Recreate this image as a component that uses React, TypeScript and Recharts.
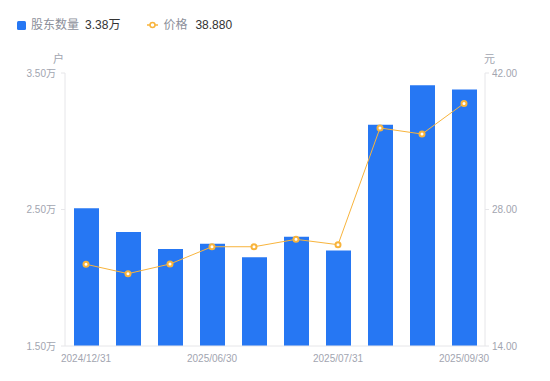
import React from 'react';
import { ComposedChart, Bar, Line, XAxis, YAxis } from 'recharts';

const dates = [
  '2024/12/31',
  '2025/03/31',
  '2025/04/30',
  '2025/06/30',
  '2025/07/10',
  '2025/07/20',
  '2025/07/31',
  '2025/08/20',
  '2025/08/31',
  '2025/09/30',
];
// 股东数量 (万户)
const holders = [2.51, 2.335, 2.21, 2.25, 2.15, 2.3, 2.2, 3.12, 3.41, 3.38];
// 价格 (元)
const prices = [22.38, 21.42, 22.41, 24.18, 24.18, 24.94, 24.39, 36.36, 35.74, 38.88];

const holderTicks = [1.5, 2.5, 3.5];
const priceTicks = [14, 28, 42];

const BLUE = '#2677f3';
const ORANGE = '#f8b43c';
const AXIS = '#e6e6e9';
const MUTED = '#a2a5b0';
const FONT = '"Liberation Sans", Arial, "Noto Sans CJK SC", sans-serif';

const data = dates.map((d, i) => ({ date: d, holders: holders[i], price: prices[i] }));

const PriceDot = (props: any) => {
  const { cx, cy } = props;
  if (cx == null || cy == null) return null;
  return <circle cx={cx} cy={cy} r={2.5} fill="#fff" stroke={ORANGE} strokeWidth={2} />;
};

export default function App() {
  const last = dates.length - 1;
  const tickStyle = { fontSize: 10, fill: MUTED, fontFamily: FONT };

  return (
    <div style={{ position: 'absolute', left: 0, top: 0, width: 550, height: 381, fontFamily: FONT }}>
      <div style={{ position: 'absolute', left: 17, top: 17, display: 'flex', alignItems: 'center', fontSize: 12, lineHeight: '16px' }}>
        <span style={{ width: 9, height: 9, background: BLUE, borderRadius: 1.5, display: 'inline-block' }} />
        <span style={{ color: '#8c8f9a', marginLeft: 5 }}>股东数量</span>
        <span style={{ color: '#333', marginLeft: 6 }}>{holders[last].toFixed(2)}万</span>
        <svg width={12} height={10} style={{ marginLeft: 27 }}>
          <line x1={0} y1={5} x2={11} y2={5} stroke={ORANGE} strokeWidth={1.5} />
          <circle cx={5.5} cy={5} r={2.5} fill="#fff" stroke={ORANGE} strokeWidth={1.5} />
        </svg>
        <span style={{ color: '#8c8f9a', marginLeft: 4 }}>价格</span>
        <span style={{ color: '#333', marginLeft: 8 }}>{prices[last].toFixed(3)}</span>
      </div>
      <div style={{ position: 'absolute', left: 53, top: 50, fontSize: 11, color: MUTED }}>户</div>
      <div style={{ position: 'absolute', left: 484, top: 50, fontSize: 11, color: MUTED }}>元</div>

      <ComposedChart
        width={550}
        height={381}
        data={data}
        margin={{ top: 73, right: 0, bottom: 5, left: 0 }}
        style={{ position: 'absolute', left: 0, top: 0 }}
      >
        <XAxis
          dataKey="date"
          interval={2}
          tickLine={false}
          tickSize={0}
          tickMargin={9}
          height={30}
          axisLine={{ stroke: AXIS }}
          tick={tickStyle}
        />
        <YAxis
          yAxisId="left"
          orientation="left"
          width={65}
          domain={[1.5, 3.5]}
          ticks={holderTicks}
          tickFormatter={(v: number) => v.toFixed(2) + '万'}
          tickSize={4}
          tickMargin={5}
          tickLine={{ stroke: AXIS }}
          axisLine={{ stroke: AXIS }}
          tick={tickStyle}
        />
        <YAxis
          yAxisId="right"
          orientation="right"
          width={65}
          domain={[14, 42]}
          ticks={priceTicks}
          tickFormatter={(v: number) => v.toFixed(2)}
          tickSize={4}
          tickMargin={3}
          tickLine={{ stroke: AXIS }}
          axisLine={{ stroke: AXIS }}
          tick={{ ...tickStyle, textAnchor: 'start' }}
        />
        <Bar yAxisId="left" dataKey="holders" fill={BLUE} barSize={25} isAnimationActive={false} />
        <Line
          yAxisId="right"
          type="linear"
          dataKey="price"
          stroke={ORANGE}
          strokeWidth={1}
          dot={<PriceDot />}
          activeDot={false}
          isAnimationActive={false}
        />
      </ComposedChart>
    </div>
  );
}
